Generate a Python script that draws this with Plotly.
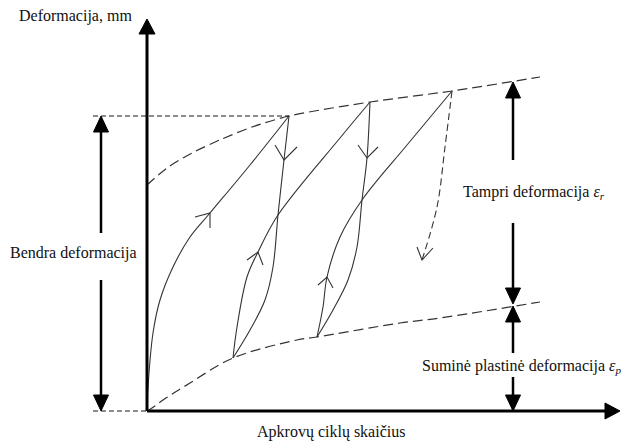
import plotly.graph_objects as go

# ---- schematic data (x: load cycles, y: deformation; origin at axes crossing) ----
upper_env_x = [0, 20, 45, 75, 105, 142, 223, 305, 393]
upper_env_y = [226, 243, 258, 272, 284, 295, 309, 320, 334]

lower_env_x = [0, 5, 16, 43, 86, 150, 170, 253, 293, 393]
lower_env_y = [0, 3, 11, 28, 53, 71, 74, 88, 93, 109]

load1_x = [0, 1, 6, 13, 26, 43, 63, 103, 142]
load1_y = [0, 24, 78, 111, 144, 174, 198, 246, 295]

unload1_x = [142, 137, 131, 126, 118, 103, 86]
unload1_y = [295, 251, 196, 144, 111, 81, 53]

reload2_x = [86, 90, 100, 111, 131, 193, 223]
reload2_y = [53, 84, 134, 159, 196, 273, 309]

unload2_x = [223, 220, 215, 210, 201, 186, 170]
unload2_y = [309, 253, 211, 164, 131, 101, 74]

reload3_x = [170, 176, 180, 193, 215, 260, 305]
reload3_y = [74, 104, 134, 174, 211, 266, 320]

unload3_x = [305, 298, 290, 275]
unload3_y = [320, 264, 204, 151]

# small open arrowheads on the curves: (wing1, tip, wing2)
curve_arrows = [
    ([48, 63, 63], [194, 198, 183]),
    ([128, 137, 150], [266, 251, 264]),
    ([100, 111, 116], [151, 159, 146]),
    ([211, 220, 231], [266, 253, 264]),
    ([171, 180, 186], [126, 134, 123]),
    ([270, 275, 286], [164, 151, 163]),
]

total_level = 295      # general deformation level
axis_x_end = 473
axis_y_end = 392
bendra_x = -46
right_x = 366
elastic_split = 106    # where elastic and plastic parts meet

labels = {
    "y_title": "Deformacija, mm",
    "x_title": "Apkrovų ciklų skaičius",
    "total": "Bendra deformacija",
    "elastic": "Tampri deformacija <i>ε<sub>r</sub></i>",
    "plastic": "Suminė plastinė deformacija <i>ε<sub>p</sub></i>",
}

INK = "#1a1a1a"
CURVE = "#333333"
FONT = "Liberation Serif"

fig = go.Figure()


def line(x, y, color=CURVE, width=1.1, dash="solid", shape="linear", smoothing=1):
    fig.add_trace(go.Scatter(x=x, y=y, mode="lines",
                             line=dict(color=color, width=width, dash=dash, shape=shape,
                                       smoothing=smoothing),
                             hoverinfo="skip", showlegend=False))


def tri(x, y):
    fig.add_trace(go.Scatter(x=x + [x[0]], y=y + [y[0]], mode="lines", fill="toself",
                             fillcolor="black", line=dict(color="black", width=1),
                             hoverinfo="skip", showlegend=False))


def up_head(xc, tip, h=16, w=7.5):
    tri([xc - w, xc, xc + w], [tip - h, tip, tip - h])


def down_head(xc, tip, h=16, w=7.5):
    tri([xc - w, xc, xc + w], [tip + h, tip, tip + h])


# envelopes
line(upper_env_x, upper_env_y, dash="10px,5px", shape="spline", width=1.2, smoothing=0.8)
line(lower_env_x, lower_env_y, dash="10px,5px", shape="spline", width=1.2)

# cycles
line(load1_x, load1_y, shape="spline")
line(unload1_x, unload1_y, shape="spline")
line(reload2_x, reload2_y, shape="spline")
line(unload2_x, unload2_y, shape="spline")
line(reload3_x, reload3_y, shape="spline")
line(unload3_x, unload3_y, dash="7px,4px", shape="spline")
for ax_, ay_ in curve_arrows:
    line(ax_, ay_)

# reference dashed horizontals
line([-54, 142], [total_level, total_level], color=INK, dash="5px,3px", width=1.1)
line([-54, 0], [0, 0], color=INK, dash="5px,3px", width=1.1)

# axes
line([0, 0], [0, axis_y_end - 14], color="black", width=3)
line([0, axis_x_end - 14], [0, 0], color="black", width=3)
up_head(0, axis_y_end, h=15, w=8)
tri([axis_x_end - 15, axis_x_end, axis_x_end - 15], [8, 0, -8])

# general deformation arrow
line([bendra_x, bendra_x], [total_level - 16, 178], color="black", width=2.5)
line([bendra_x, bendra_x], [131, 16], color="black", width=2.5)
up_head(bendra_x, total_level)
down_head(bendra_x, 0)

# elastic deformation arrow
line([right_x, right_x], [313, 251], color="black", width=2.5)
line([right_x, right_x], [188, elastic_split + 16], color="black", width=2.5)
up_head(right_x, 329)
down_head(right_x, elastic_split + 1)

# plastic deformation arrow
line([right_x, right_x], [elastic_split - 16, 58], color="black", width=2.5)
line([right_x, right_x], [34, 16], color="black", width=2.5)
up_head(right_x, elastic_split - 1)
down_head(right_x, 0)

tf = dict(family=FONT, size=16, color="#111111")
fig.add_annotation(x=-72, y=395, text=labels["y_title"], showarrow=False, font=tf)
fig.add_annotation(x=184, y=-21, text=labels["x_title"], showarrow=False, font=tf)
fig.add_annotation(x=-74, y=158, text=labels["total"], showarrow=False, font=tf)
fig.add_annotation(x=314, y=219, text=labels["elastic"], showarrow=False, font=tf,
                   xanchor="left")
fig.add_annotation(x=273, y=45, text=labels["plastic"], showarrow=False, font=tf,
                   xanchor="left")

fig.update_layout(
    width=622, height=441,
    margin=dict(l=0, r=0, t=0, b=0),
    paper_bgcolor="white", plot_bgcolor="white",
    xaxis=dict(range=[-147, 475], visible=False, fixedrange=True),
    yaxis=dict(range=[-30, 411], visible=False, fixedrange=True),
    showlegend=False,
)

fig.write_html(
    "out.html",
    config={"displayModeBar": False, "staticPlot": True},
    post_script="document.body.style.margin='0';document.body.style.overflow='hidden';",
)
